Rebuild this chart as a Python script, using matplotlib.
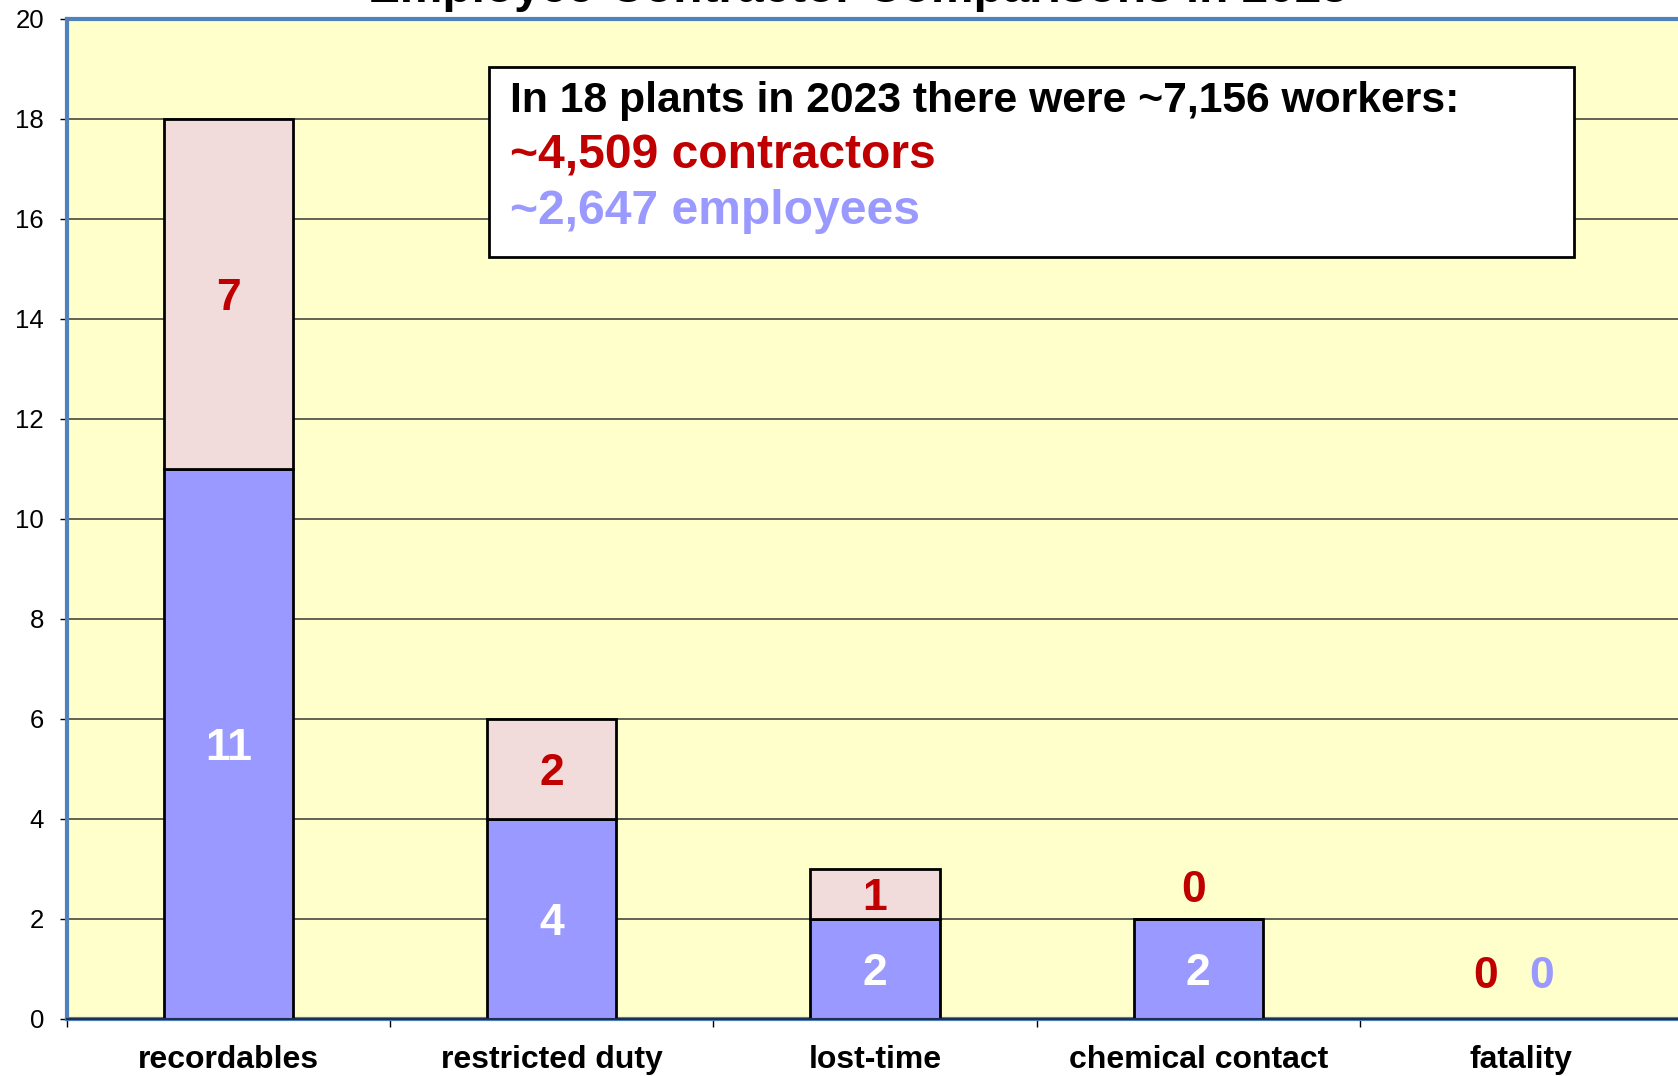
import matplotlib
matplotlib.use("Agg")
import matplotlib.pyplot as plt
from matplotlib.patches import Rectangle
import numpy as np

plt.rcParams['font.family'] = ['Liberation Sans', 'DejaVu Sans']

categories = ["recordables", "restricted duty", "lost-time", "chemical contact", "fatality"]
employees = [11, 4, 2, 2, 0]
contractors = [7, 2, 1, 0, 0]
yticks = [0, 2, 4, 6, 8, 10, 12, 14, 16, 18, 20]

title = "Employee-Contractor Comparisons in 2023"
box_lines = ["In 18 plants in 2023 there were ~7,156 workers:",
             "~4,509 contractors",
             "~2,647 employees"]

emp_color = "#9999FF"
con_color = "#F2DCDB"
red = "#C00000"
blue = "#4F81BD"

W, H = 1678, 1076
fig = plt.figure(figsize=(W / 100, H / 100), dpi=100)

def fx(px):
    return px / W

def fy(py):
    return 1 - py / H

ax = fig.add_axes([fx(67), fy(1019), fx(1683) - fx(67), fy(19) - fy(1019)])
ax.set_facecolor("#FFFFCC")

x = np.arange(len(categories)) + 0.5
ax.bar(x, employees, width=0.4, color=emp_color, edgecolor="black", linewidth=2, zorder=3)
ax.bar(x, contractors, width=0.4, bottom=employees, color=con_color, edgecolor="black",
       linewidth=2, zorder=3)

ax.set_xlim(0, 5)
ax.set_ylim(0, 20)
ax.set_yticks(yticks)
ax.set_yticklabels([str(v) for v in yticks], fontsize=18.5)
ax.tick_params(axis="y", direction="out", length=5, width=1, pad=11.5)
ax.yaxis.grid(True, color="#55554A", linewidth=1.3, zorder=1)

ax.set_xticks(np.arange(0, 6))
ax.set_xticklabels([])
ax.tick_params(axis="x", which="major", direction="out", length=6, width=1)
ax.set_xticks(x, minor=True)
ax.set_xticklabels(categories, minor=True, fontsize=23, fontweight="bold")
ax.tick_params(axis="x", which="minor", length=0, pad=19)

for s in ["left", "top", "bottom", "right"]:
    ax.spines[s].set_color(blue)
    ax.spines[s].set_linewidth(3)
ax.axhline(0, color="#1F2F4F", linewidth=1.5, zorder=4, clip_on=False)

# segment labels (nudged down a bit so the digits sit centred)
dy = -0.09
for i in range(len(categories)):
    e = employees[i]
    c = contractors[i]
    if e > 0:
        ax.text(x[i], e / 2 + dy, str(e), color="white", fontsize=32, fontweight="bold",
                ha="center", va="center", zorder=5)
    if c > 0:
        ax.text(x[i], e + c / 2 + dy, str(c), color=red, fontsize=32, fontweight="bold",
                ha="center", va="center", zorder=5)

# zero labels
ax.text(x[3] - 0.013, employees[3] + 0.65 + dy, str(contractors[3]), color=red, fontsize=32,
        fontweight="bold", ha="center", va="center", zorder=5)
ax.text(x[4] - 0.11, 0.94 + dy, str(contractors[4]), color=red, fontsize=32,
        fontweight="bold", ha="center", va="center", zorder=5)
ax.text(x[4] + 0.063, 0.94 + dy, str(employees[4]), color=emp_color, fontsize=32,
        fontweight="bold", ha="center", va="center", zorder=5)

# info box
fig.patches.append(Rectangle((fx(489), fy(257)), fx(1574) - fx(489), fy(67) - fy(257),
                             transform=fig.transFigure, facecolor="white",
                             edgecolor="black", linewidth=2, zorder=10))
fig.text(fx(510), fy(112), box_lines[0], fontsize=30.7, fontweight="bold", color="black",
         ha="left", va="baseline", zorder=11)
fig.text(fx(510), fy(168), box_lines[1], fontsize=34.6, fontweight="bold", color=red,
         ha="left", va="baseline", zorder=11)
fig.text(fx(510), fy(224), box_lines[2], fontsize=34.6, fontweight="bold", color=emp_color,
         ha="left", va="baseline", zorder=11)

fig.text(fx(858), fy(2), title, fontsize=34.4, fontweight="bold", color="black",
         ha="center", va="baseline")

fig.savefig("out.png", dpi=100)
